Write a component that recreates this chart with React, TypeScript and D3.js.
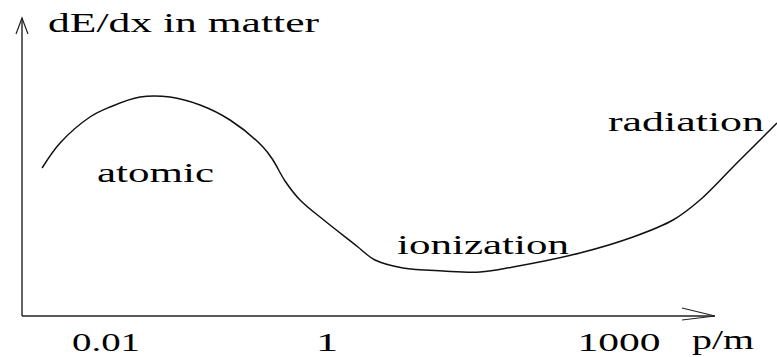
import React from "react";
import * as d3 from "d3";

// Momentum over mass (p/m) sampled along the hand-drawn curve
const pOverM: number[] = [
  0.00264, 0.00384, 0.00716, 0.01087, 0.0203, 0.038, 0.071, 0.1325, 0.2635,
  0.324, 0.417, 0.57, 0.959, 2.08, 2.46, 3.11, 6.04, 15.6, 37.3, 81.5, 397,
  1393, 3590, 6792, 14830, 28100, 42000,
];
// Energy loss dE/dx (arbitrary units)
const dEdx: number[] = [
  148, 173, 199, 209, 219, 219, 211, 196, 169, 156, 135, 116, 95, 69, 63, 56,
  48, 45, 44, 49, 63, 79, 96, 116, 149, 176, 193,
];
const tickValues: number[] = [0.01, 1, 1000];
const tickLabels: string[] = ["0.01", "1", "1000"];
const regionLabels: string[] = ["atomic", "ionization", "radiation"];

const W = 777;
const H = 357;
const FONT = "'Liberation Serif', 'DejaVu Serif', 'Times New Roman', Times, serif";

export default function App() {
  const x = d3.scaleLog().domain([0.01, 1, 1000]).range([106, 327, 619]);
  const y = d3.scaleLinear().domain([0, 300]).range([316, 16]);

  const pts: [number, number][] = pOverM.map((p, i) => [x(p), y(dEdx[i])]);
  const line = d3.line().curve(d3.curveCatmullRom.alpha(0.5));
  const d = line(pts) || "";

  const axisX = 22;
  const axisY = y(0);
  const axisTop = 18;
  const axisRight = 715;
  const stroke = "#222";

  return (
    <svg
      width={W}
      height={H}
      style={{ position: "absolute", left: 0, top: 0, background: "#fff" }}
      fontFamily={FONT}
    >
      {/* y axis with arrow */}
      <line x1={axisX} y1={axisY} x2={axisX} y2={axisTop} stroke={stroke} strokeWidth={1.4} />
      <path
        d={`M${axisX - 6},${axisTop + 16} L${axisX},${axisTop} L${axisX + 6},${axisTop + 16}`}
        fill="none"
        stroke={stroke}
        strokeWidth={1.2}
      />
      {/* x axis with arrow */}
      <line x1={axisX} y1={axisY} x2={axisRight} y2={axisY} stroke={stroke} strokeWidth={1.4} />
      <path
        d={`M${axisRight - 33},${axisY - 8} L${axisRight},${axisY} L${axisRight - 33},${axisY + 4}`}
        fill="none"
        stroke={stroke}
        strokeWidth={1.2}
      />

      {/* curve */}
      <path d={d} fill="none" stroke="#111" strokeWidth={1.5} />

      {/* texts */}
      <g fontSize={28} fill="#000">
        <text x={48} y={32} textLength={271} lengthAdjust="spacingAndGlyphs">
          dE/dx in matter
        </text>
        <text x={97} y={182} textLength={117} lengthAdjust="spacingAndGlyphs">
          {regionLabels[0]}
        </text>
        <text x={397} y={254} textLength={172} lengthAdjust="spacingAndGlyphs">
          {regionLabels[1]}
        </text>
        <text x={608} y={131} textLength={156} lengthAdjust="spacingAndGlyphs">
          {regionLabels[2]}
        </text>
        {tickValues.map((v, i) => {
          const len = [68, 0, 83][i];
          const cx = x(v);
          return len > 0 ? (
            <text
              key={i}
              x={cx - len / 2}
              y={351}
              fontSize={26}
              textLength={len}
              lengthAdjust="spacingAndGlyphs"
            >
              {tickLabels[i]}
            </text>
          ) : (
            <text
              key={i}
              x={cx}
              y={351}
              fontSize={26}
              textAnchor="middle"
              transform={`translate(${cx},0) scale(1.7,1) translate(${-cx},0)`}
            >
              {tickLabels[i]}
            </text>
          );
        })}
        <text x={692} y={349} fontSize={27} textLength={62} lengthAdjust="spacingAndGlyphs">
          p/m
        </text>
      </g>
    </svg>
  );
}
